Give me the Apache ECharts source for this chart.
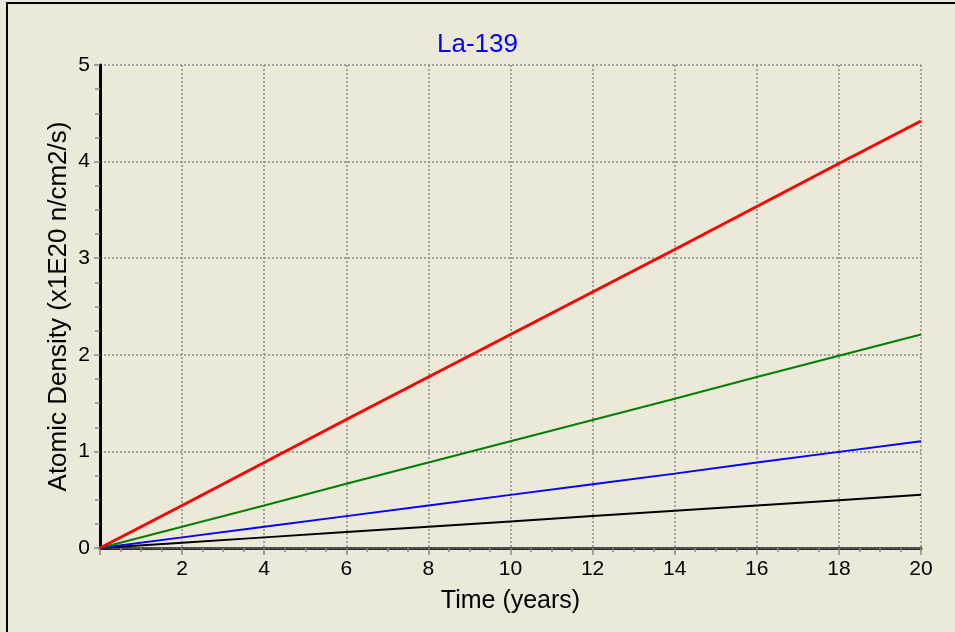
<!DOCTYPE html>
<html>
<head>
<meta charset="utf-8">
<script src="https://cdn.jsdelivr.net/npm/echarts@6/dist/echarts.min.js"></script>
<style>
html,body{margin:0;padding:0;background:#ECE9D8;}
#c{width:955px;height:632px;}
</style>
</head>
<body>
<div id="c"></div>
<script>
const titleText = 'La-139';
const xName = 'Time (years)';
const yName = 'Atomic Density (x1E20 n/cm2/s)';
const years = [0, 2, 4, 6, 8, 10, 12, 14, 16, 18, 20];
const redSeries   = [0, 0.44, 0.885, 1.33, 1.77, 2.21, 2.65, 3.09, 3.535, 3.98, 4.42];
const greenSeries = [0, 0.22, 0.44, 0.665, 0.885, 1.105, 1.325, 1.545, 1.77, 1.99, 2.21];
const blueSeries  = [0, 0.11, 0.22, 0.33, 0.44, 0.55, 0.66, 0.77, 0.885, 0.995, 1.105];
const blackSeries = [0, 0.055, 0.11, 0.165, 0.22, 0.275, 0.33, 0.385, 0.44, 0.495, 0.55];

function pairs(v){ return years.map((t,i)=>[t, v[i]]); }

const font = 'Arial, "Liberation Sans", sans-serif';
const chart = echarts.init(document.getElementById('c'), null, {renderer:'canvas'});
const gridLine = {show:true, lineStyle:{color:'#8a8a8a', width:1.5, type:[2,2]}};
chart.setOption({
  backgroundColor:'#ECE9D8',
  animation:false,
  title:{text:titleText, left:'center', top:27, textStyle:{color:'#0000FF', fontFamily:font, fontWeight:'normal', fontSize:26}},
  grid:{left:100, right:34, top:65, bottom:84},
  xAxis:[{
    type:'value', min:0, max:20, interval:2, position:'bottom',
    name:xName, nameLocation:'middle', nameGap:41, nameMoveOverlap:false,
    nameTextStyle:{color:'#000', fontFamily:font, fontSize:25},
    axisLine:{show:true, lineStyle:{color:'#2a2a2a', width:3}},
    axisTick:{show:true, length:7, lineStyle:{color:'#888', width:1.5}},
    minorTick:{show:true, splitNumber:4, length:4, lineStyle:{color:'#888', width:1.5}},
    axisLabel:{color:'#000', fontFamily:font, fontSize:21, margin:11,
      formatter:function(v){return v===0?'':String(v);}},
    splitLine:gridLine
  },{
    type:'value', min:0, max:20, interval:2, position:'top',
    axisLine:{show:true, lineStyle:{color:'#555', width:2, type:[2,2]}},
    axisTick:{show:false}, axisLabel:{show:false}, splitLine:{show:false}
  }],
  yAxis:[{
    type:'value', min:0, max:5, interval:1, position:'left',
    name:yName, nameLocation:'middle', nameGap:28, nameMoveOverlap:false,
    nameTextStyle:{color:'#000', fontFamily:font, fontSize:26},
    axisLine:{show:true, lineStyle:{color:'#000', width:3}},
    axisTick:{show:true, length:6, lineStyle:{color:'#888', width:1.5}},
    minorTick:{show:true, splitNumber:4, length:5, lineStyle:{color:'#888', width:1.5}},
    axisLabel:{color:'#000', fontFamily:font, fontSize:21, margin:10},
    splitLine:gridLine
  },{
    type:'value', min:0, max:5, interval:1, position:'right',
    axisLine:{show:true, lineStyle:{color:'#000', width:2}},
    axisTick:{show:false}, axisLabel:{show:false}, splitLine:{show:false}
  }],
  series:[
    {type:'line', data:pairs(blackSeries), showSymbol:false, lineStyle:{color:'#000000', width:2}, z:3},
    {type:'line', data:pairs(blueSeries), showSymbol:false, lineStyle:{color:'#0000FF', width:2}, z:3},
    {type:'line', data:pairs(greenSeries), showSymbol:false, lineStyle:{color:'#008000', width:2}, z:3},
    {type:'line', data:pairs(redSeries), showSymbol:false, lineStyle:{color:'#FF0000', width:3}, z:4}
  ],
  graphic:[
    {type:'line', shape:{x1:6, y1:3, x2:955, y2:3}, style:{stroke:'#000', lineWidth:2}},
    {type:'line', shape:{x1:7, y1:3, x2:7, y2:632}, style:{stroke:'#000', lineWidth:2}}
  ]
});
</script>
</body>
</html>
